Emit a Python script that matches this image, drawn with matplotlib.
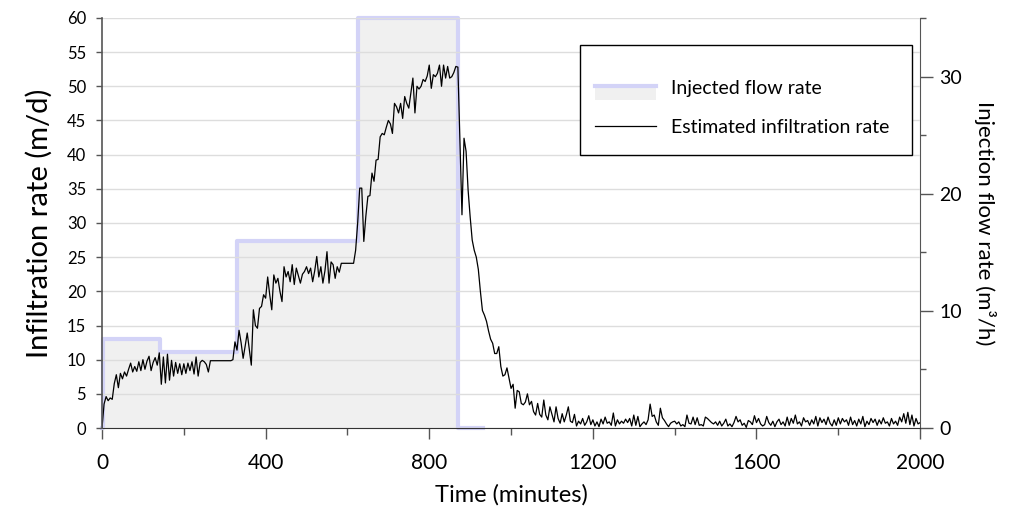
import matplotlib
matplotlib.use("Agg")
import matplotlib.pyplot as plt
import numpy as np
from matplotlib.lines import Line2D
from matplotlib.patches import Patch, Rectangle
from matplotlib.ticker import MultipleLocator

plt.rcParams['font.family'] = ['Lato', 'DejaVu Sans']

# injected flow (m3/h), step changes
flow_time = [0, 3, 142, 329, 627, 871, 932]
flow_rate = [0, 7.6, 6.5, 16.0, 35.0, 0, 0]

# estimated infiltration rate (m/d), one value every 5 minutes
time_min = np.arange(0, 2001, 5)
infiltration = [
    0, 3.5, 4.6, 4.0, 4.4, 4.2, 6.5, 7.8, 5.9, 8.0, 7.2, 8.2, 7.6, 8.6, 9.5, 8.2, 9.0, 8.3, 9.7, 8.4,
    10.0, 8.6, 9.8, 10.5, 8.4, 9.6, 10.3, 9.2, 11.0, 6.4, 10.4, 6.6, 10.8, 7.0, 9.9, 7.6, 9.6, 8.0, 9.4, 7.8,
    9.4, 8.0, 9.5, 8.4, 9.7, 7.9, 10.4, 7.6, 9.6, 9.9, 9.7, 9.3, 8.2, 9.85, 9.85, 9.85, 9.85, 9.85, 9.85, 9.85,
    9.85, 9.85, 9.85, 9.85, 10.0, 12.6, 11.4, 14.3, 12.5, 10.2, 12.0, 13.9, 11.5, 9.2, 17.3, 15.0, 14.6, 17.5, 17.8, 19.5,
    19.0, 22.1, 19.5, 17.3, 22.4, 21.2, 21.9, 20.0, 18.5, 23.6, 22.1, 22.9, 21.4, 23.9, 21.0, 23.4, 22.3, 21.2, 22.5, 22.9,
    23.6, 22.6, 23.4, 21.4, 23.0, 25.1, 22.1, 23.6, 21.2, 23.0, 25.8, 21.2, 24.3, 23.9, 21.9, 23.6, 22.8, 24.1, 24.1, 24.1,
    24.1, 24.1, 24.1, 24.1, 26.0, 30.0, 35.1, 35.1, 27.3, 31.0, 33.9, 34.0, 37.3, 36.1, 39.2, 39.3, 42.6, 43.1, 42.9, 44.0,
    45.0, 44.5, 43.1, 47.5, 47.0, 46.1, 47.5, 45.3, 48.5, 47.5, 46.8, 49.0, 51.2, 46.1, 50.0, 49.6, 50.0, 51.0, 50.7, 51.5,
    53.1, 49.7, 51.7, 51.4, 51.9, 53.1, 50.0, 53.1, 51.2, 52.9, 51.2, 51.4, 52.0, 52.9, 52.8, 42.0, 31.2, 42.4, 40.5, 34.8,
    30.9, 27.5, 26.0, 25.0, 23.2, 20.0, 17.2, 16.5, 15.6, 14.2, 13.0, 12.4, 10.9, 10.9, 11.9, 9.0, 7.6, 7.8, 8.8, 7.3,
    5.8, 6.4, 2.9, 5.5, 5.3, 3.6, 3.4, 3.8, 5.0, 3.4, 3.9, 2.4, 1.9, 3.6, 2.0, 1.6, 4.1, 1.9, 1.2, 3.1,
    2.0, 0.9, 3.1, 1.4, 0.7, 2.1, 0.9, 1.9, 3.1, 1.0, 0.8, 2.0, 0.3, 1.0, 0.6, 1.4, 0.4, 0.9, 1.8, 0.5,
    1.2, 0.3, 0.9, 0.2, 1.3, 0.6, 1.6, 0.7, 0.9, 0.4, 2.2, 0.3, 1.2, 0.6, 1.0, 0.7, 1.3, 0.8, 1.4, 0.3,
    1.9, 0.4, 1.7, 0.2, 0.6, 0.9, 0.5, 1.2, 3.5, 1.7, 1.9, 0.9, 0.4, 2.9, 1.5, 1.1, 0.6, 0.2, 0.7, 0.9,
    1.0, 0.6, 0.9, 0.3, 0.5, 0.2, 1.9, 0.7, 0.6, 1.6, 0.5, 1.5, 0.4, 0.5, 0.3, 1.6, 1.4, 1.1, 0.8, 0.6,
    0.9, 0.4, 1.0, 0.3, 0.7, 1.3, 0.3, 0.6, 0.2, 0.8, 1.7, 0.9, 1.2, 0.4, 0.7, 0.1, 1.1, 0.9, 0.5, 1.8,
    0.8, 1.4, 0.6, 0.3, 0.5, 1.7, 0.8, 0.4, 1.0, 0.2, 0.9, 1.3, 0.5, 0.9, 0.3, 1.6, 0.4, 1.4, 0.7, 1.9,
    0.6, 0.9, 0.3, 1.5, 0.9, 1.1, 0.4, 1.2, 0.6, 1.7, 0.3, 1.5, 0.8, 1.3, 0.5, 1.6, 0.7, 0.3, 1.2, 0.4,
    1.5, 0.6, 1.4, 0.9, 1.2, 0.4, 1.6, 0.5, 1.1, 0.3, 1.3, 0.6, 1.7, 0.2, 1.0, 0.5, 1.4, 0.8, 1.3, 0.4,
    1.2, 0.6, 1.5, 0.7, 0.9, 0.3, 1.4, 0.6, 1.0, 0.4, 1.6, 0.9, 2.1, 0.7, 2.3, 0.5, 1.9, 0.3, 1.4, 0.6,
    0.8,
]

FLOW_COLOR = '#d3d3f7'
FILL_COLOR = '#f0f0f0'
SPINE_COLOR = '#555555'


class StepHandler:
    # blue line sitting on top of a grey patch, like the step area
    def legend_artist(self, legend, orig_handle, fontsize, handlebox):
        x0, y0 = handlebox.xdescent, handlebox.ydescent
        w, h = handlebox.width, handlebox.height
        tr = handlebox.get_transform()
        patch = Rectangle((x0, y0 - 0.4 * h), w, 1.0 * h, facecolor=FILL_COLOR,
                          edgecolor='none', transform=tr)
        line = Line2D([x0, x0 + w], [y0 + 0.6 * h] * 2, color=FLOW_COLOR, lw=3,
                      transform=tr)
        handlebox.add_artist(patch)
        handlebox.add_artist(line)
        return patch


fig = plt.figure(figsize=(10.1, 5.12), dpi=100)
ax_r = fig.add_axes([0.101, 0.164, 0.810, 0.801])
ax_l = ax_r.twinx()

# flow rate on the right axis, drawn underneath
ax_r.fill_between(flow_time, flow_rate, step='post', color=FILL_COLOR, lw=0)
ax_r.step(flow_time, flow_rate, where='post', color=FLOW_COLOR, lw=3, clip_on=False)
ax_r.set_ylim(0, 35)
ax_r.set_xlim(0, 2000)
ax_r.yaxis.tick_right()
ax_r.yaxis.set_label_position('right')
ax_r.yaxis.set_major_locator(MultipleLocator(10))
ax_r.yaxis.set_minor_locator(MultipleLocator(5))
ax_r.xaxis.set_major_locator(MultipleLocator(400))
ax_r.xaxis.set_minor_locator(MultipleLocator(200))
ax_r.tick_params(axis='y', which='major', length=9, width=1, colors=SPINE_COLOR,
                 labelcolor='black', labelsize=14, pad=5)
ax_r.tick_params(axis='y', which='minor', length=4.5, width=1, colors=SPINE_COLOR)
ax_r.tick_params(axis='x', which='major', length=8, width=1, colors=SPINE_COLOR,
                 labelcolor='black', labelsize=15, pad=10)
ax_r.tick_params(axis='x', which='minor', length=5, width=1, colors=SPINE_COLOR)
ax_r.set_ylabel('Injection flow rate (m³/h)', fontsize=16, rotation=270, labelpad=24)
ax_r.set_xlabel('Time (minutes)', fontsize=17, labelpad=8)
for side in ['left', 'top']:
    ax_r.spines[side].set_visible(False)
ax_r.spines['right'].set_color(SPINE_COLOR)
ax_r.spines['bottom'].set_color('#333333')

# infiltration rate on the left axis, on top
ax_l.plot(time_min, infiltration, color='black', lw=0.9)
ax_l.set_ylim(0, 60)
ax_l.set_xlim(0, 2000)
ax_l.yaxis.tick_left()
ax_l.yaxis.set_label_position('left')
ax_l.set_yticks(np.arange(0, 61, 5))
ax_l.tick_params(axis='y', length=4.5, width=1, colors=SPINE_COLOR, labelcolor='black',
                 labelsize=12, pad=7)
ax_l.set_ylabel('Infiltration rate (m/d)', fontsize=21, labelpad=10)
ax_l.yaxis.grid(True, color='#dddddd', lw=1)
ax_l.set_axisbelow(True)
for side in ['right', 'top', 'bottom']:
    ax_l.spines[side].set_visible(False)
ax_l.spines['left'].set_color(SPINE_COLOR)
ax_l.spines['left'].set_linewidth(1.2)

# legend box drawn separately so its padding can be uneven, as in the original
ax_l.add_patch(Rectangle((0.584, 0.666), 0.406, 0.268, transform=ax_l.transAxes,
                         facecolor='white', edgecolor='black', lw=1, zorder=4,
                         clip_on=False))
handles = [Patch(label='Injected flow rate'),
           Line2D([], [], color='black', lw=0.9, label='Estimated infiltration rate')]
leg = ax_l.legend(handles=handles, handler_map={Patch: StepHandler()},
                  loc='upper left', bbox_to_anchor=(0.603, 0.848), fontsize=14,
                  frameon=False, handlelength=3.1, handletextpad=0.8, borderpad=0,
                  labelspacing=1.12, borderaxespad=0)
leg.set_zorder(5)

fig.savefig('out.png', dpi=100)
